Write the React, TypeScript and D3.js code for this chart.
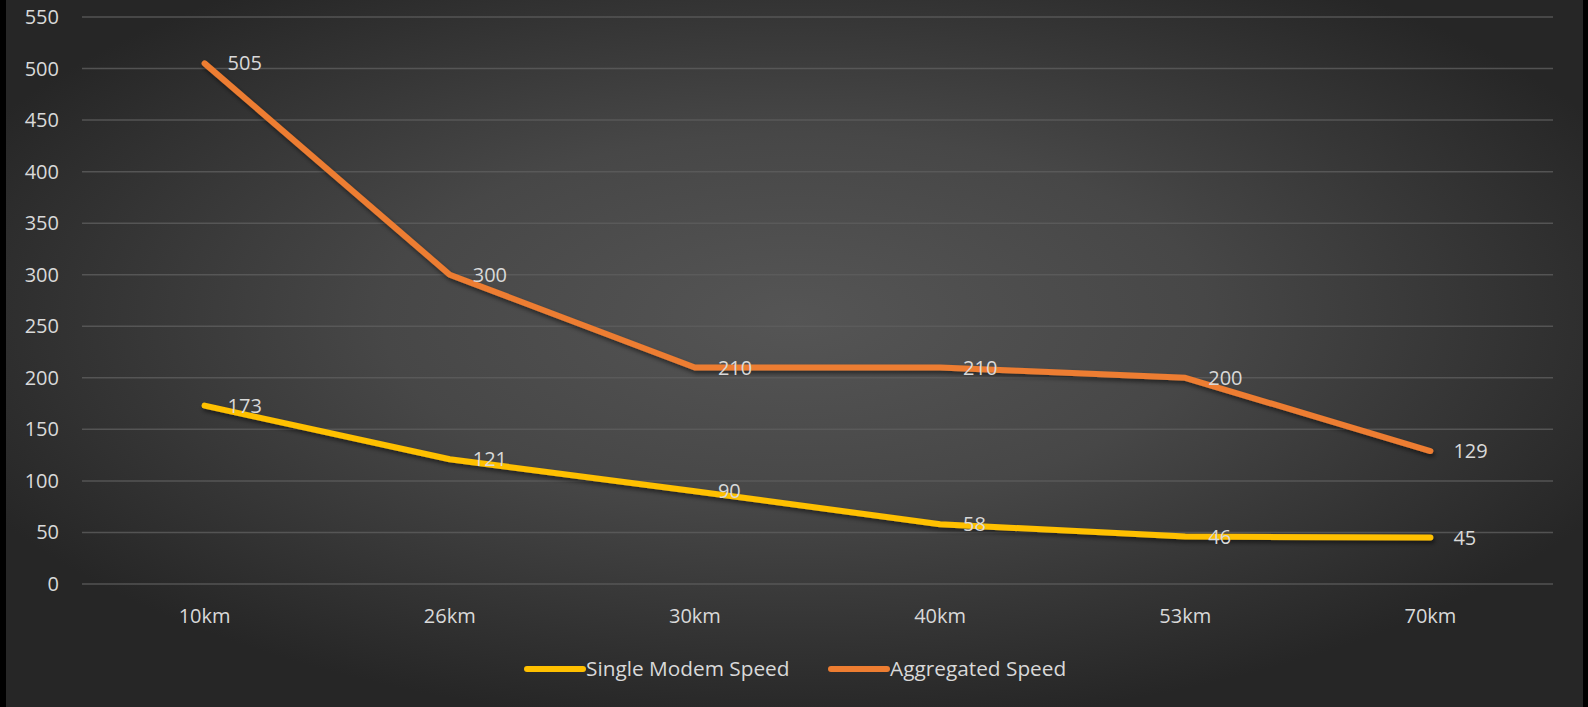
import React from "react";
import * as d3 from "d3";

const categories = ["10km", "26km", "30km", "40km", "53km", "70km"];
const singleModem = [173, 121, 90, 58, 46, 45];
const aggregated = [505, 300, 210, 210, 200, 129];
const yTicks = [0, 50, 100, 150, 200, 250, 300, 350, 400, 450, 500, 550];

const seriesList = [
  { name: "Single Modem Speed", values: singleModem, color: "#FFC000" },
  { name: "Aggregated Speed", values: aggregated, color: "#ED7D31" },
];

const W = 1588;
const H = 707;
const FONT = "'Open Sans', sans-serif";
const TEXT = "#d9d9d9";

export default function App() {
  const x = d3.scaleBand<string>().domain(categories).range([82, 1553]);
  const y = d3.scaleLinear().domain([0, 550]).range([584, 17]);
  const cx = (c: string) => (x(c) ?? 0) + x.bandwidth() / 2;

  const line = d3
    .line<number>()
    .x((_, i) => cx(categories[i]))
    .y((d) => y(d));

  return (
    <svg
      width={W}
      height={H}
      style={{ position: "absolute", left: 0, top: 0, display: "block" }}
      fontFamily={FONT}
    >
      <defs>
        <radialGradient id="bg" cx="48%" cy="45%" r="58%" gradientTransform="translate(0.02 0) scale(1 1)">
          <stop offset="0%" stopColor="#555555" />
          <stop offset="45%" stopColor="#474747" />
          <stop offset="100%" stopColor="#262626" />
        </radialGradient>
        <filter id="shadow" x="-10%" y="-10%" width="120%" height="130%">
          <feDropShadow dx="1.5" dy="3" stdDeviation="2" floodColor="#000" floodOpacity="0.5" />
        </filter>
      </defs>
      <rect width={W} height={H} fill="#000" />
      <rect x={6} y={0} width={1577} height={H} fill="url(#bg)" />

      {yTicks.map((t) => (
        <g key={t}>
          <line x1={82} x2={1553} y1={y(t)} y2={y(t)} stroke="#5e5e5e" strokeOpacity={0.8} strokeWidth={1.5} />
          <text x={59} y={y(t)} dy="0.35em" textAnchor="end" fontSize={20} fill={TEXT}>
            {t}
          </text>
        </g>
      ))}

      {categories.map((c) => (
        <text key={c} x={cx(c)} y={616} dy="0.35em" textAnchor="middle" fontSize={20} fill={TEXT}>
          {c}
        </text>
      ))}

      {seriesList.map((s) => (
        <path
          key={s.name}
          d={line(s.values) ?? ""}
          fill="none"
          stroke={s.color}
          strokeWidth={6}
          strokeLinecap="round"
          strokeLinejoin="round"
          filter="url(#shadow)"
        />
      ))}

      {seriesList.map((s) =>
        s.values.map((v, i) => (
          <text
            key={s.name + i}
            x={cx(categories[i]) + 23}
            y={y(v)}
            dy="0.35em"
            fontSize={20}
            fill={TEXT}
          >
            {v}
          </text>
        ))
      )}

      {[
        { s: seriesList[0], x0: 527 },
        { s: seriesList[1], x0: 831 },
      ].map(({ s, x0 }) => (
        <g key={s.name}>
          <line x1={x0} x2={x0 + 56} y1={669} y2={669} stroke={s.color} strokeWidth={6} strokeLinecap="round" />
          <text x={x0 + 59} y={669} dy="0.35em" fontSize={20.8} fill={TEXT}>
            {s.name}
          </text>
        </g>
      ))}
    </svg>
  );
}
